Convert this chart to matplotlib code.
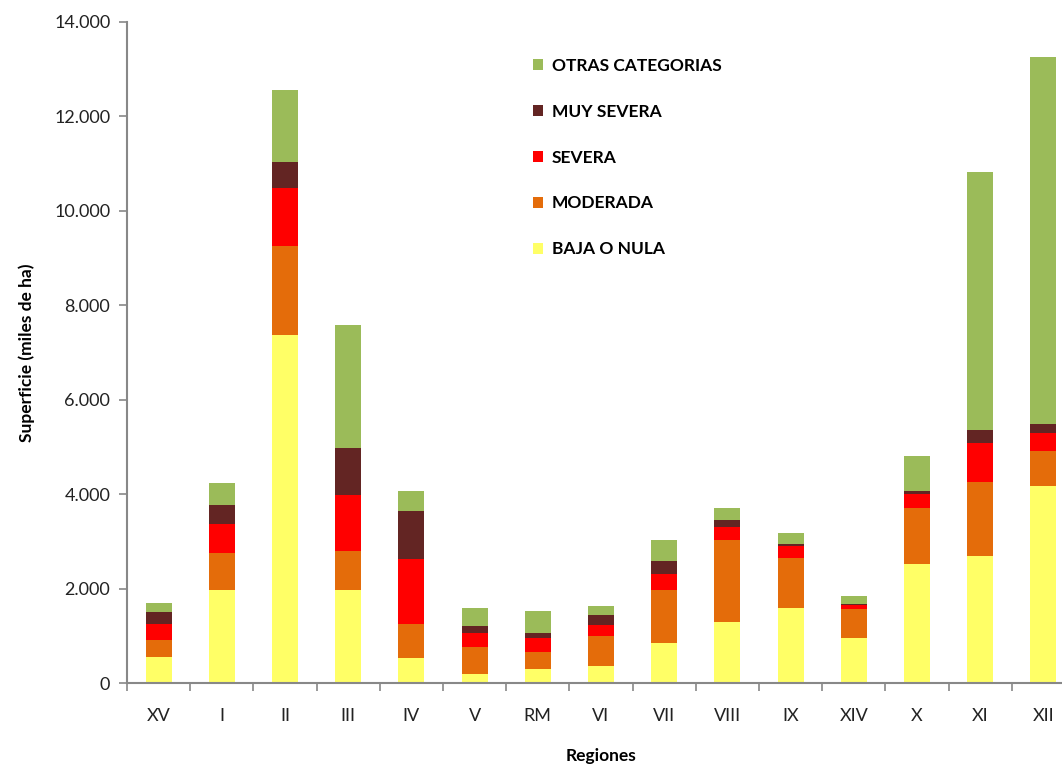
import matplotlib
matplotlib.use("Agg")
import matplotlib.pyplot as plt
import numpy as np
from matplotlib.ticker import FuncFormatter, FixedLocator

plt.rcParams['font.family'] = ['Lato', 'DejaVu Sans']

regions = ["XV", "I", "II", "III", "IV", "V", "RM", "VI", "VII", "VIII", "IX", "XIV", "X", "XI", "XII"]
baja_o_nula = [560, 1970, 7370, 1970, 520, 185, 290, 355, 840, 1290, 1590, 950, 2515, 2680, 4170]
moderada    = [345, 790, 1890, 830, 730, 580, 370, 650, 1130, 1740, 1065, 615, 1195, 1585, 740]
severa      = [340, 610, 1230, 1190, 1370, 300, 285, 220, 340, 280, 245, 80, 290, 815, 390]
muy_severa  = [265, 410, 550, 995, 1030, 135, 120, 225, 270, 140, 50, 20, 60, 270, 190]
otras       = [190, 450, 1520, 2600, 410, 390, 455, 180, 450, 260, 220, 180, 755, 5480, 7770]

series = [
    ("BAJA O NULA", baja_o_nula, "#FFFF66"),
    ("MODERADA", moderada, "#E46C0A"),
    ("SEVERA", severa, "#FF0000"),
    ("MUY SEVERA", muy_severa, "#632523"),
    ("OTRAS CATEGORIAS", otras, "#9BBB59"),
]

fig = plt.figure(figsize=(10.62, 7.68), dpi=100)
ax = fig.add_axes([127/1062, 1-683/768, (1075-127)/1062, (683-22)/768])

x = np.arange(len(regions))
bottom = np.zeros(len(regions))
handles = []
for name, vals, col in series:
    v = np.array(vals, dtype=float)
    b = ax.bar(x, v, width=0.41, bottom=bottom, color=col, label=name, linewidth=0)
    handles.append(b)
    bottom += v

ax.set_xlim(-0.5, 14.5)
ax.set_ylim(0, 14000)
ax.set_yticks(np.arange(0, 14001, 2000))
ax.yaxis.set_major_formatter(FuncFormatter(lambda v, p: f"{int(v):,}".replace(",", ".")))
ax.set_xticks(x)
ax.set_xticklabels(regions)
ax.xaxis.set_minor_locator(FixedLocator(np.arange(-0.5, 15, 1)))
ax.tick_params(axis='x', which='major', length=0, pad=18, labelsize=13, colors='#222222')
ax.tick_params(axis='x', which='minor', length=6, color='#888888', width=1.2)
ax.tick_params(axis='y', length=6, color='#888888', width=1.2, labelsize=13, labelcolor='#222222', pad=6)

for s in ['top', 'right']:
    ax.spines[s].set_visible(False)
for s in ['left', 'bottom']:
    ax.spines[s].set_color('#888888')
    ax.spines[s].set_linewidth(1.5)

ax.set_ylabel("Superficie (miles de ha)", fontsize=12.5, fontweight='bold', labelpad=14)
ax.set_xlabel("Regiones", fontsize=12.5, fontweight='bold', labelpad=17)

leg = fig.legend(handles[::-1], [s[0] for s in series][::-1], loc='upper left',
                 bbox_to_anchor=(0.487, 0.945), frameon=False,
                 prop={'weight': 'bold', 'size': 12.5},
                 handlelength=0.6, handleheight=0.6, handletextpad=0.5,
                 labelspacing=1.72)

fig.savefig("out.png", dpi=100)
